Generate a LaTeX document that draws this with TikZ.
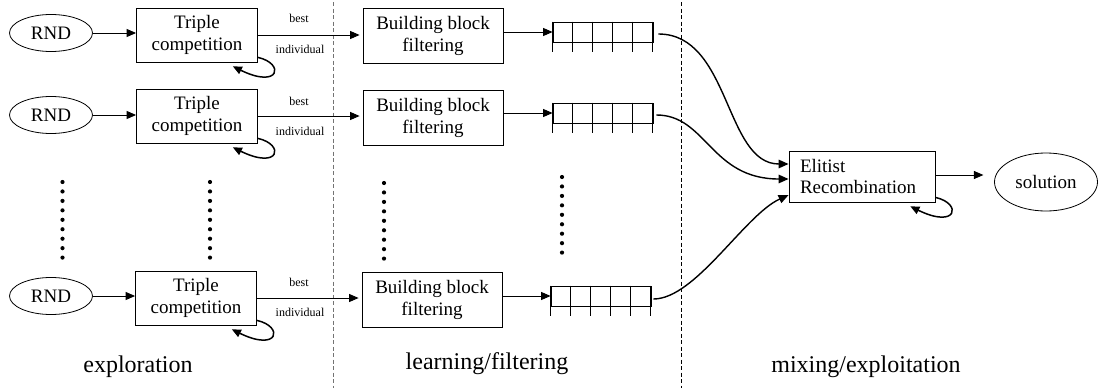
\documentclass[tikz,border=0pt]{standalone}
\usepackage{fontspec}
\setmainfont{Liberation Serif}
\usetikzlibrary{arrows.meta,shapes.geometric,calc}
\begin{document}
\begin{tikzpicture}[x=1pt,y=-1pt,
  txt/.style={font=\fontsize{19}{21.5}\selectfont},
  oval/.style={txt, draw, ellipse, line width=0.8pt, inner sep=0pt},
  tcbox/.style={txt, draw, line width=0.8pt, minimum width=121pt, minimum height=54pt, inner sep=0pt, align=center},
  bbbox/.style={txt, draw, line width=0.8pt, minimum width=140pt, minimum height=55pt, inner sep=0pt, align=center},
  cellrow/.style={draw, line width=0.8pt, minimum width=100pt, minimum height=20pt, inner sep=0pt},
  smalltext/.style={font=\fontsize{12}{14}\selectfont, anchor=base, inner sep=0pt},
  phasetext/.style={font=\fontsize{24}{28}\selectfont, anchor=base, inner sep=0pt},
  arr/.style={line width=0.9pt, -{Triangle[length=9.5pt,width=8pt]}},
  curvearrow/.style={line width=1.4pt, -{Triangle[length=10pt,width=8.5pt]}},
  selfloop/.style={line width=1.5pt, -{Triangle[length=9pt,width=8pt]}},
  divider/.style={line width=0.8pt, dash pattern=on 4pt off 2.5pt}
]
\useasboundingbox (0,0) rectangle (1098,388);

% phase dividers
\draw[divider, black!55] (333,2) -- (333,388);
\draw[divider] (681,2) -- (681,388);

% random initial populations
\node[oval, minimum width=83pt, minimum height=37pt] (r1) at (51,33) {RND};
\node[oval, minimum width=83pt, minimum height=37pt] (r2) at (51,115) {RND};
\node[oval, minimum width=83pt, minimum height=37pt] (r3) at (51,296) {RND};

% triple competition
\node[tcbox] (t1) at (197,35) {Triple\\competition};
\node[tcbox] (t2) at (197,116) {Triple\\competition};
\node[tcbox] (t3) at (196,298) {Triple\\competition};

% building block filtering
\node[bbbox] (b1) at (433,36) {Building block\\filtering};
\node[bbbox] (b2) at (433,118) {Building block\\filtering};
\node[bbbox] (b3) at (432,300) {Building block\\filtering};

% cell arrays
\node[cellrow] (a1) at (603,32) {};
\node[cellrow] (a2) at (603,113) {};
\node[cellrow] (a3) at (601,296) {};
\foreach \a in {a1,a2,a3}{
  \foreach \k in {0,...,5}{
    \draw[line width=0.8pt] ($(\a.north west)+(20*\k,0)$) -- ($(\a.south west)+(20*\k,10)$);
  }
}

% elitist recombination and solution
\node[txt, draw, line width=0.8pt, minimum width=146pt, minimum height=51pt, inner sep=0pt,
      text width=124pt, align=left] (e) at (862,176.5) {Elitist\\Recombination};
\node[oval, minimum width=103pt, minimum height=58pt] (s) at (1046,182) {solution};

% straight connectors
\foreach \i in {1,2,3}{
  \draw[arr] (r\i.east) -- (r\i.east -| t\i.west);
  \draw[arr] (t\i.east) -- ($(t\i.east -| b\i.west)+(-3,0)$);
  \draw[arr] (a\i.west -| b\i.east) -- (a\i.west);
}
\draw[arr] (e.east |- 0,175) -- ($(e.east |- 0,175)+(48,0)$);

% best individual labels
\node[smalltext] (lb1) at (299,23) {best};
\node[smalltext] (li1) at (300,53) {individual};
\node[smalltext] (lb2) at (299,105) {best};
\node[smalltext] (li2) at (300,135) {individual};
\node[smalltext] (lb3) at (299,286) {best};
\node[smalltext] (li3) at (300,316) {individual};

% self loops
\foreach \n in {t1,t2,t3,e}{
  \draw[selfloop] ([yshift=5pt]\n.south east) .. controls +(27,6) and +(47,23) .. ([xshift=-25pt,yshift=-4pt]\n.south east);
}

% curves into the recombination stage
\draw[curvearrow] ($(a1.east)+(5,2)$) .. controls +(72,0) and +(-64,0) .. ($(e.west)+(0,-12.5)$);
\draw[curvearrow] ($(a2.east)+(3,2)$) .. controls +(50,0) and +(-78,0) .. ($(e.west)+(0,2.5)$);
\draw[curvearrow] ($(a3.east)+(2,3)$) .. controls +(42,0) and +(-44,20) .. ($(e.west)+(0,18.5)$);

% vertical ellipsis dots
\foreach \x/\y in {62.5/182, 210/182, 384/183, 562/177}{
  \foreach \k in {0,...,8}{
    \fill (\x,{\y+9.45*\k}) circle (2.1pt);
  }
}

% phase labels
\node[phasetext] (p1) at (138,372) {exploration};
\node[phasetext] (p2) at (487,369) {learning/filtering};
\node[phasetext] (p3) at (866,372) {mixing/exploitation};
\end{tikzpicture}
\end{document}
